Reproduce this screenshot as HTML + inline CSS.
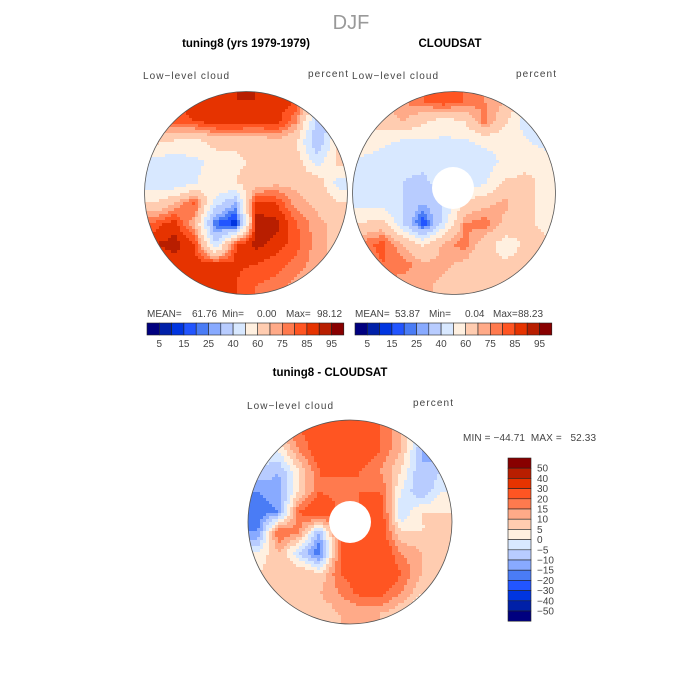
<!DOCTYPE html>
<html><head><meta charset="utf-8"><style>
html,body{margin:0;padding:0;background:#fff}
svg{display:block}
.t{font-family:"Liberation Sans",sans-serif}
.lab{font-family:"Liberation Sans",sans-serif;font-size:10px;fill:#444}
.bt{font-family:"Liberation Sans",sans-serif;font-weight:bold;font-size:11.5px;fill:#000}
</style></head><body>
<svg id="fig" width="700" height="700" viewBox="0 0 700 700">
<defs>
<clipPath id="c1"><circle cx="246" cy="193" r="101.5"/></clipPath>
<clipPath id="c2"><circle cx="454" cy="193" r="101.5"/></clipPath>
<clipPath id="c3"><circle cx="350" cy="522" r="102"/></clipPath>
</defs>
<text x="351" y="29" text-anchor="middle" class="t" style="font-size:20px;fill:#999">DJF</text>
<text x="246" y="47" text-anchor="middle" class="bt">tuning8 (yrs 1979-1979)</text>
<text x="450" y="47" text-anchor="middle" class="bt">CLOUDSAT</text>
<text x="143" y="79" class="lab" textLength="86">Low−level cloud</text>
<text x="308" y="77" class="lab" textLength="40">percent</text>
<text x="352" y="79" class="lab" textLength="86">Low−level cloud</text>
<text x="516" y="77" class="lab" textLength="40">percent</text>
<g id="m1" clip-path="url(#c1)"></g>
<circle cx="246" cy="193" r="101.5" fill="none" stroke="#555" stroke-width="0.8"/>
<g id="m2" clip-path="url(#c2)"></g>
<circle cx="453" cy="188" r="21" fill="#fff"/>
<circle cx="454" cy="193" r="101.5" fill="none" stroke="#555" stroke-width="0.8"/>
<g>
<text x="147" y="317" class="lab">MEAN=</text><text x="192" y="317" class="lab">61.76</text>
<text x="222" y="317" class="lab">Min=</text><text x="257" y="317" class="lab">0.00</text>
<text x="286" y="317" class="lab">Max=</text><text x="317" y="317" class="lab">98.12</text></g>
<g>
<text x="355" y="317" class="lab">MEAN=</text><text x="395" y="317" class="lab">53.87</text>
<text x="429" y="317" class="lab">Min=</text><text x="465" y="317" class="lab">0.04</text>
<text x="493" y="317" class="lab">Max=</text><text x="518" y="317" class="lab">88.23</text></g>
<g id="cb1"></g>
<g id="cb2"></g>
<text x="330" y="376" text-anchor="middle" class="bt">tuning8 - CLOUDSAT</text>
<text x="247" y="409" class="lab" textLength="86">Low−level cloud</text>
<text x="413" y="406" class="lab" textLength="40">percent</text>
<text x="463" y="441" class="lab" textLength="133" xml:space="preserve">MIN = −44.71  MAX =   52.33</text>
<g id="m3" clip-path="url(#c3)"></g>
<circle cx="350" cy="522" r="21" fill="#fff"/>
<circle cx="350" cy="522" r="102" fill="none" stroke="#555" stroke-width="0.8"/>
<g id="cb3"></g>
</svg>
<script>
const colors=["#00007f","#0020a8","#0035e0","#2255ff","#4a7cf5","#88aaff","#b8ccff","#d8e8ff","#fff0e0","#ffccb0","#ffaa88","#ff7a4e","#ff5522","#e63300","#b81e00","#880000"];
const pctLevels=[5,10,15,20,25,30,40,50,60,70,75,80,85,90,95];
const pctTickLabels=["5","15","25","40","60","75","85","95"];
const diffLevels=[-50,-40,-30,-20,-15,-10,-5,0,5,10,15,20,30,40,50];
const diffTickLabels=["50","40","30","20","15","10","5","0","−5","−10","−15","−20","−30","−40","−50"];
const modelGrid=[
[82,85,88,88,90,90,88,85,55,50],
[78,82,85,88,90,88,88,75,35,40],
[62,58,55,65,62,62,68,60,30,62],
[45,45,48,52,58,62,62,65,45,62],
[45,42,48,60,60,65,68,68,68,45],
[60,70,82,45,30,88,85,72,68,62],
[82,88,70,20,10,92,92,80,72,68],
[90,92,85,40,85,92,88,82,72,68],
[85,88,88,88,86,85,82,78,72,68],
[80,85,85,85,85,80,78,72,68,68]];
const obsGrid=[
[65,70,75,80,85,80,75,70,60,50],
[60,65,70,62,55,60,78,62,45,38],
[55,52,48,48,48,48,52,52,52,45],
[48,45,42,42,46,46,46,52,58,58],
[45,45,40,38,45,45,48,62,62,58],
[48,45,40,30,40,62,68,72,62,58],
[60,65,40,15,45,75,78,68,62,58],
[78,82,70,58,72,78,65,55,62,62],
[75,80,78,72,72,68,62,62,62,62],
[68,72,72,72,68,62,62,62,62,62]];
const diffGrid=[
[5,10,20,25,30,25,20,10,0,-5],
[0,0,15,25,30,25,20,10,-10,-15],
[-5,-10,5,20,22,20,15,5,-10,-5],
[-15,-12,5,20,15,20,20,0,-10,0],
[-18,-15,20,30,20,20,25,-5,5,5],
[-15,20,15,-10,20,25,25,5,5,5],
[0,10,-5,-20,20,25,28,15,10,5],
[5,10,10,5,20,25,30,20,10,5],
[5,5,10,10,15,22,22,15,5,5],
[5,5,5,5,10,10,10,5,-5,5]];
const NS="http://www.w3.org/2000/svg";
function colorFor(v,levels){let i=0;while(i<levels.length&&v>=levels[i])i++;return colors[i];}
function sample(g,fx,fy){const n=g.length-1;let x=Math.max(0,Math.min(n,fx)),y=Math.max(0,Math.min(n,fy));
 const x0=Math.min(n-1,Math.floor(x)),y0=Math.min(n-1,Math.floor(y));const tx=x-x0,ty=y-y0;
 return g[y0][x0]*(1-tx)*(1-ty)+g[y0][x0+1]*tx*(1-ty)+g[y0+1][x0]*(1-tx)*ty+g[y0+1][x0+1]*tx*ty;}
function drawMap(id,g,levels,cx,cy,r){const el=document.getElementById(id);const step=3;
 for(let y=cy-r;y<cy+r;y+=step){for(let x=cx-r;x<cx+r;x+=step){
  const fx=((x+step/2-(cx-r))/(2*r))*10-0.5,fy=((y+step/2-(cy-r))/(2*r))*10-0.5;
  const v=sample(g,fx,fy);const rc=document.createElementNS(NS,"rect");
  rc.setAttribute("x",x);rc.setAttribute("y",y);rc.setAttribute("width",step+0.3);rc.setAttribute("height",step+0.3);
  rc.setAttribute("fill",colorFor(v,levels));
  
  
  el.appendChild(rc);}}}
drawMap("m1",modelGrid,pctLevels,246,193,102);
drawMap("m2",obsGrid,pctLevels,454,193,102);
drawMap("m3",diffGrid,diffLevels,350,522,102);
function hbar(id,x0){const el=document.getElementById(id);const w=12.3;
 colors.forEach((c,i)=>{const rc=document.createElementNS(NS,"rect");
  rc.setAttribute("x",x0+i*w);rc.setAttribute("y",323);rc.setAttribute("width",w);rc.setAttribute("height",12);
  rc.setAttribute("fill",c);rc.setAttribute("stroke","#222");rc.setAttribute("stroke-width","0.6");
  
  
  el.appendChild(rc);});
 pctTickLabels.forEach((t,k)=>{const tx=document.createElementNS(NS,"text");
  tx.setAttribute("x",x0+(2*k+1)*w);tx.setAttribute("y",347);tx.setAttribute("text-anchor","middle");tx.setAttribute("class","lab");
  tx.textContent=t;
  
  
  el.appendChild(tx);});}
hbar("cb1",147);hbar("cb2",355);
(function(){const el=document.getElementById("cb3");const h=10.2,x0=508,y0=458;
 for(let i=0;i<16;i++){const rc=document.createElementNS(NS,"rect");
  rc.setAttribute("x",x0);rc.setAttribute("y",y0+i*h);rc.setAttribute("width",23);rc.setAttribute("height",h);
  rc.setAttribute("fill",colors[15-i]);rc.setAttribute("stroke","#222");rc.setAttribute("stroke-width","0.6");
  
  
  el.appendChild(rc);}
 diffTickLabels.forEach((t,k)=>{const tx=document.createElementNS(NS,"text");
  tx.setAttribute("x",537);tx.setAttribute("y",y0+(k+1)*h+3.5);tx.setAttribute("class","lab");
  tx.textContent=t;
  
  
  el.appendChild(tx);});})();
</script>
</body></html>
